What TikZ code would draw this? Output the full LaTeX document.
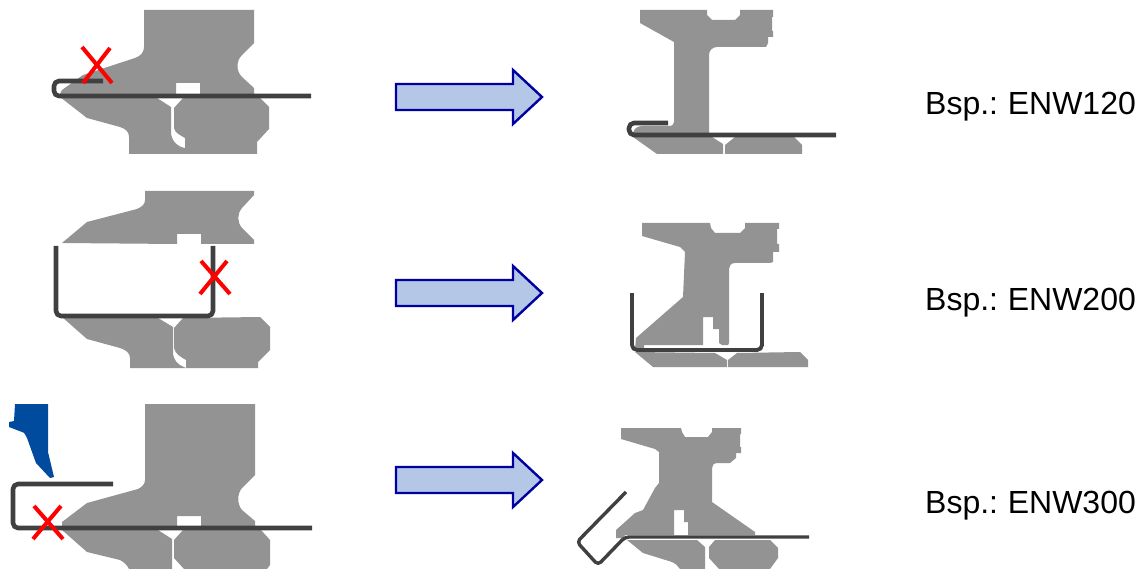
\documentclass[tikz,border=0pt]{standalone}
\usepackage{fontspec}
\setmainfont{Liberation Sans}[WordSpace=0.76]
\definecolor{diegrey}{HTML}{939393}
\definecolor{stripgrey}{HTML}{404040}
\definecolor{toolblue}{HTML}{004B9E}
\definecolor{arrowfill}{HTML}{B4C7E7}
\definecolor{arrowline}{HTML}{0000A0}
\tikzset{
 die/.style={fill=diegrey,draw=none},
 strip/.style={draw=stripgrey,line width=4.6pt,line join=round,rounded corners=5pt},
 cross/.style={draw=red,line width=4pt},
 flow/.style={fill=arrowfill,draw=arrowline,line width=2.4pt,miter limit=10},
 lab/.style={anchor=base west,inner sep=0pt,font=\fontsize{32}{34}\selectfont}
}
\begin{document}
\begin{tikzpicture}[x=1pt,y=-1pt]
\useasboundingbox (0,0) rectangle (1145,569);
% ---------- Row 1 left
\path[die] (144,10)--(254,10)--(254,43)--(242,55) .. controls (236,61) and (236,71) .. (242,77)--(254,88)--(254,94)--(200,94)--(200,83)--(176,83)--(176,94)--(60,94)--(62,90)--(83,75)--(135,58) .. controls (141,56) and (144,52) .. (144,47)--cycle;
\path[die] (60,97)--(87,118)--(120,127) .. controls (126,129) and (129,132) .. (129,137)--(129,154)--(257,154)--(257,142)--(269,129)--(269,107)--(260,98)--(183,98)--(174,108)--(174,128) .. controls (175,133) and (180,135) .. (185,138)--(185,148) .. controls (178,147) and (171,141) .. (171,132)--(171,107)--(157,98)--cycle;
\draw[strip] (311,96)--(54,96)--(54,81)--(103,81);
\draw[cross] (82,47)--(112,83);
\draw[cross] (110,48)--(83,83);
% ---------- Row 2 left
\path[die] (145,191)--(254,191)--(254,195)--(242,208) .. controls (237,214) and (237,222) .. (242,228)--(254,240)--(254,244)--(201,244)--(201,234)--(177,234)--(177,244)--(62,243)--(87,222)--(137,209) .. controls (142,207) and (145,204) .. (145,200)--cycle;
\path[die] (62,317)--(87,339)--(120,348) .. controls (126,350) and (130,353) .. (130,358)--(130,368)--(258,368)--(258,362)--(270,350)--(270,327)--(260,317)--(183,318)--(174,328)--(174,348) .. controls (175,354) and (181,357) .. (186,360)--(186,368)--(184,367) .. controls (178,365) and (173,360) .. (173,352)--(173,327)--(158,318)--cycle;
\draw[strip] (56,246)--(56,316)--(213,316)--(213,246);
\draw[cross] (201,261)--(230,294);
\draw[cross] (227,261)--(200,294);
% ---------- Row 3 left
\path[die] (145,404)--(255,404)--(255,475)--(242,488) .. controls (237,494) and (237,504) .. (242,510)--(255,521)--(255,526)--(201,526)--(201,516)--(177,516)--(177,526)--(62,526)--(62,522)--(87,503)--(138,489) .. controls (142,487) and (145,484) .. (145,480)--cycle;
\path[die] (62,530)--(87,552)--(120,560) .. controls (124,562) and (127,565) .. (129,569)--(172,569)--(172,539)--(158,530)--cycle;
\path[die] (183,530)--(174,540)--(174,558)--(184,569)--(267,569)--(270,565)--(270,540)--(261,530)--cycle;
\draw[strip] (312,528)--(13,528)--(13,484)--(113,484);
\draw[cross] (34,506)--(63,539);
\draw[cross] (61,506)--(33,539);
\path[fill=toolblue] (15,404)--(48,404)--(48,452)--(54,477)--(50,478)--(36,463)--(27,438) .. controls (26,435) and (24,432) .. (22,432)--(9,427)--(9,422)--(14,421)--cycle;
% ---------- Row 1 right
\path[die] (640,10)--(707,10)--(707,15)--(712,20)--(735,20)--(740,15)--(740,10)--(773,10)--(773,17)--(772,17)--(772,31)--(773,31)--(773,37)--(768,37)--(768,43)--(766,47)--(717,47) .. controls (712,47) and (709,51) .. (709,55)--(709,133)--(633,133) .. controls (634,128) and (638,126) .. (643,126)--(668,126) .. controls (672,126) and (674,125) .. (674,122)--(674,42)--(640,23)--cycle;
\path[die] (633,137)--(657,154)--(723,154)--(723,144)--(712,137)--cycle;
\path[die] (735,137)--(725,145)--(725,154)--(802,154)--(802,145)--(794,137)--cycle;
\draw[strip] (836,135)--(629,135)--(629,123)--(668,123);
% ---------- Row 2 right
\path[die] (642,223)--(710,223)--(711,228)--(715,233)--(740,233)--(745,228)--(745,223)--(779,223)--(779,229)--(777,229)--(777,244)--(779,244)--(779,252)--(773,252)--(773,262)--(770,263)--(735,263) .. controls (731,263) and (729,266) .. (729,269)--(729,343)--(728,345)--(722,345)--(719,343)--(719,329)--(713,329)--(713,317)--(703,317)--(703,345)--(644,345)--(644,349)--(635,349)--(636,338)--(683,297)--(685,252)--(680,247)--(642,236)--cycle;
\path[die] (635,352)--(653,367)--(727,367)--(727,360)--(715,353)--cycle;
\path[die] (737,353)--(728,360)--(728,367)--(808,367)--(808,360)--(800,352)--cycle;
\draw[strip,line width=3.8pt] (632,293)--(632,350)--(762,350)--(762,293);
% ---------- Row 3 right
\path[die] (621,428)--(681,428)--(682,432)--(685,437)--(708,437)--(712,432)--(712,428)--(741,428)--(741,434)--(740,434)--(740,447)--(741,447)--(741,453)--(736,453)--(736,458)--(730,463)--(718,463) .. controls (714,463) and (712,465) .. (712,468)--(712,502)--(755,532)--(755,535)--(688,535)--(688,522)--(684,522)--(684,510)--(674,510)--(674,535)--(625,535)--(623,538)--(616,538)--(616,530)--(635,513)--(643,510)--(655,488)--(659,483)--(659,452)--(655,449)--(621,439)--cycle;
\path[die] (627,540)--(643,553)--(672,562) .. controls (676,564) and (678,566) .. (680,569)--(705,569)--(705,547)--(697,540)--cycle;
\path[die] (715,540)--(709,547)--(709,558)--(719,569)--(770,569)--(778,558)--(778,548)--(770,540)--cycle;
\draw[strip,line width=3.4pt,rounded corners=4pt] (809,537)--(625,537)--(598,565)--(577,542)--(626,492);
% ---------- Arrows
\draw[flow] (396,84)--(513,84)--(513,70)--(542,97)--(513,124)--(513,110)--(396,110)--cycle;
\draw[flow] (396,280)--(513,280)--(513,266)--(542,293)--(513,320)--(513,306)--(396,306)--cycle;
\draw[flow] (396,467)--(513,467)--(513,453)--(542,480)--(513,507)--(513,493)--(396,493)--cycle;
% ---------- Labels
\node[lab] (l1) at (925,115) {Bsp.: ENW120};
\node[lab] (l2) at (925,310) {Bsp.: ENW200};
\node[lab] (l3) at (925,513) {Bsp.: ENW300};
\end{tikzpicture}
\end{document}
